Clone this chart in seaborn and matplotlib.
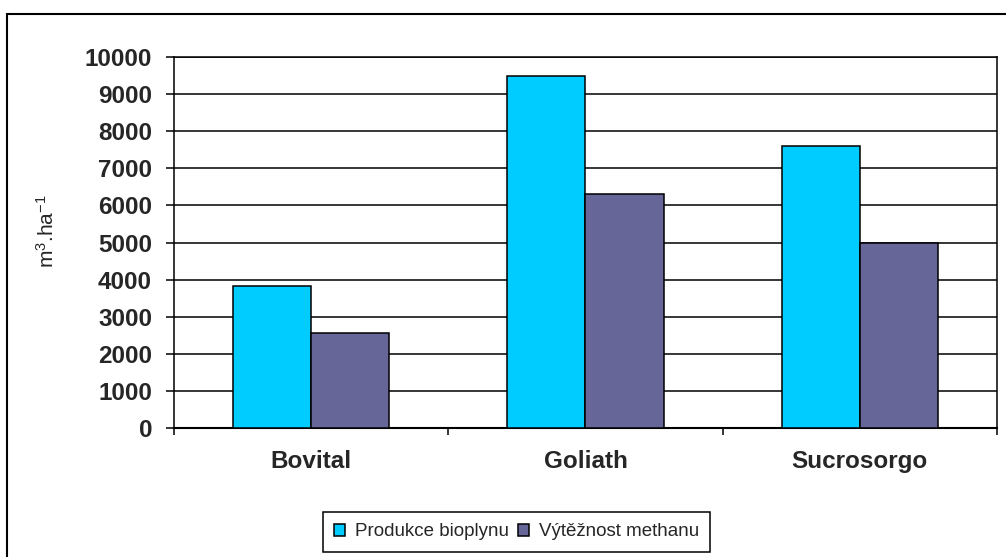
import matplotlib
matplotlib.use("Agg")
import matplotlib.pyplot as plt
from matplotlib.patches import Patch, Rectangle
import pandas as pd
import seaborn as sns

# Sorghum cultivars and yields per hectare
cultivars = ["Bovital", "Goliath", "Sucrosorgo"]
series_names = ["Produkce bioplynu", "Výtěžnost methanu"]
biogas = [3840, 9480, 7590]
methane = [2560, 6320, 5000]
series_colors = ["#00CCFF", "#666699"]
y_ticks = [0, 1000, 2000, 3000, 4000, 5000, 6000, 7000, 8000, 9000, 10000]
y_label = r"m$^{\mathregular{3}}$.ha$^{\mathregular{-1}}$"

df = pd.DataFrame({
    "cultivar": cultivars * 2,
    "series": [series_names[0]] * len(cultivars) + [series_names[1]] * len(cultivars),
    "value": biogas + methane,
})

sns.set_style("white")
plt.rcParams["font.family"] = ["Liberation Sans", "DejaVu Sans"]
plt.rcParams["mathtext.fontset"] = "custom"
plt.rcParams["mathtext.rm"] = "Liberation Sans"
plt.rcParams["mathtext.default"] = "regular"

W, H = 1006, 557
fig = plt.figure(figsize=(W / 100, H / 100), dpi=100)
ax = fig.add_axes([174 / W, 1 - 428 / H, (997 - 174) / W, (428 - 57) / H])

line_w = 1.1
sns.barplot(
    data=df, x="cultivar", y="value", hue="series",
    order=cultivars, hue_order=series_names,
    palette=series_colors, width=0.57, saturation=1,
    edgecolor="black", linewidth=line_w, ax=ax, zorder=3,
)
if ax.get_legend() is not None:
    ax.get_legend().remove()

ax.set_xlim(-0.5, len(cultivars) - 0.5)
ax.set_ylim(y_ticks[0], y_ticks[-1])
ax.set_yticks(y_ticks)
ax.set_yticklabels([str(v) for v in y_ticks])
ax.grid(axis="y", color="black", linewidth=line_w, zorder=0)
ax.grid(axis="x", visible=False)
ax.set_axisbelow(True)

for side in ["left", "bottom", "top", "right"]:
    ax.spines[side].set_visible(True)
    ax.spines[side].set_color("black")
    ax.spines[side].set_linewidth(line_w)
ax.spines["bottom"].set_linewidth(1.5)

# category labels centred, boundary ticks between groups
ax.set_xticks(range(len(cultivars)))
ax.set_xticklabels(cultivars, fontsize=17.5, fontweight="bold")
ax.set_xticks([i - 0.5 for i in range(len(cultivars) + 1)], minor=True)
ax.tick_params(axis="x", which="major", length=0, pad=16)
ax.tick_params(axis="x", which="minor", direction="out", length=5, width=line_w,
               color="black", bottom=True)
ax.tick_params(axis="y", which="major", direction="out", length=5.8, width=line_w,
               color="black", pad=10, left=True, labelsize=17.5)
for lbl in ax.get_yticklabels():
    lbl.set_fontweight("bold")

ax.set_xlabel("")
ax.set_ylabel(y_label, fontsize=15)
ax.yaxis.set_label_coords(-0.141, 0.53)

# legend below the plot
handles = [Patch(facecolor=c, edgecolor="black", linewidth=line_w) for c in series_colors]
leg = fig.legend(
    handles, series_names, ncol=2, loc="center",
    bbox_to_anchor=(516.5 / W, 1 - 532 / H),
    fontsize=13.5, frameon=True, fancybox=False, framealpha=1,
    edgecolor="black", borderpad=0.6, handlelength=0.6, handleheight=0.6,
    handletextpad=0.5, columnspacing=0.5,
)
leg.get_frame().set_linewidth(line_w)

# chart area border
fig.add_artist(Rectangle((7 / W, -0.1), 1.2, (H - 14) / H + 0.1,
                         transform=fig.transFigure, fill=False,
                         edgecolor="black", linewidth=1.5, clip_on=False))

fig.savefig("out.png", dpi=100, facecolor="white")
